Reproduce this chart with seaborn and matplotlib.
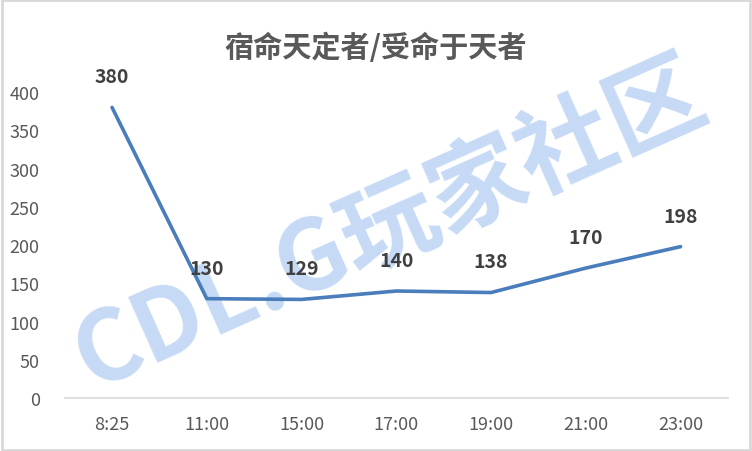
import pandas as pd
import seaborn as sns
import matplotlib.pyplot as plt
from matplotlib.patches import Rectangle

times = ["8:25", "11:00", "15:00", "17:00", "19:00", "21:00", "23:00"]
counts = [380, 130, 129, 140, 138, 170, 198]
title = "宿命天定者/受命于天者"
watermark = "CDL.G玩家社区"

df = pd.DataFrame({"time": times, "count": counts})

sns.set_style("white")
plt.rcParams['font.family'] = ['Noto Sans CJK SC', 'DejaVu Sans']

fig = plt.figure(figsize=(7.52, 4.52), dpi=100)
ax = fig.add_axes([0.086, 0.117, 0.882, 0.677])

sns.lineplot(data=df, x="time", y="count", sort=False, color="#4a7dbb",
             linewidth=2.6, ax=ax, zorder=3)

for i, v in enumerate(counts):
    ax.annotate(str(v), (i, v), xytext=(0, 22), textcoords="offset points",
                ha="center", va="center", fontsize=14, fontweight="bold",
                color="#404040", zorder=4)

ax.set_xlim(-0.5, len(times) - 0.5)
ax.set_ylim(0, 400)
ax.set_yticks(range(0, 401, 50))
ax.set_xlabel("")
ax.set_ylabel("")
for s in ["top", "right", "left"]:
    ax.spines[s].set_visible(False)
ax.spines["bottom"].set_color("#d9d9d9")
ax.spines["bottom"].set_linewidth(1.2)
ax.tick_params(axis="both", length=0, labelsize=13, colors="#595959")
ax.tick_params(axis="x", pad=12)
ax.tick_params(axis="y", pad=18)

fig.text(0.5, 0.895, title, ha="center", va="center", fontsize=21,
         fontweight="bold", color="#595959")

# watermark sits behind the axes (axes patch is transparent)
fig.text(0.52, 0.5, watermark, ha="center", va="center", fontsize=70,
         fontweight="heavy", color="#c6daf6", rotation=24, zorder=-1)
ax.patch.set_alpha(0)

fig.patches.append(Rectangle((0.002, 0.003), 0.996, 0.994, transform=fig.transFigure,
                             fill=False, edgecolor="#d9d9d9", linewidth=2))

fig.savefig("out.png", dpi=100)
